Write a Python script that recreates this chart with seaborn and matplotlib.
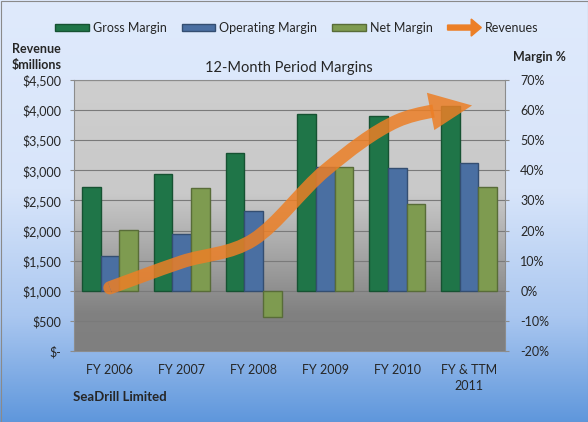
import numpy as np
import pandas as pd
import matplotlib
matplotlib.use("Agg")
import matplotlib.pyplot as plt
import matplotlib.patches as mpatches
from matplotlib.path import Path
from matplotlib.colors import LinearSegmentedColormap, to_rgb
from matplotlib.legend_handler import HandlerPatch
import seaborn as sns

# data
periods = ["FY 2006", "FY 2007", "FY 2008", "FY 2009", "FY 2010", "FY & TTM\n2011"]
gross_margin = [34.3, 38.9, 45.6, 58.7, 57.9, 61.2]
operating_margin = [11.7, 19.0, 26.6, 41.2, 40.9, 42.6]
net_margin = [20.1, 34.2, -8.8, 41.2, 28.9, 34.6]
revenues = [1050, 1480, 1850, 3000, 3820, 4070]

rev_ticks = [0, 500, 1000, 1500, 2000, 2500, 3000, 3500, 4000, 4500]
rev_labels = ["$-", "$500", "$1,000", "$1,500", "$2,000", "$2,500", "$3,000", "$3,500", "$4,000", "$4,500"]
margin_ticks = [-20, -10, 0, 10, 20, 30, 40, 50, 60, 70]
margin_labels = ["-20%", "-10%", "0%", "10%", "20%", "30%", "40%", "50%", "60%", "70%"]

metrics = ["Gross Margin", "Operating Margin", "Net Margin"]
colors = ["#1f7548", "#4a6fa2", "#7e9b50"]
orange = "#ec7f26"

df = pd.DataFrame({
    "Period": periods * 3,
    "Metric": [m for m in metrics for _ in periods],
    "Value": gross_margin + operating_margin + net_margin,
})

sns.set_style("white")
plt.rcParams["font.family"] = ["Lato", "DejaVu Sans"]

W, H = 588, 422
fig = plt.figure(figsize=(W / 100, H / 100), dpi=100)

# figure background gradient
bgax = fig.add_axes([0, 0, 1, 1], zorder=-10)
bg_cmap = LinearSegmentedColormap.from_list(
    "bg", [(0, "#dfeafc"), (0.45, "#d8e5fa"), (0.75, "#aac7f0"), (1, "#5f97dc")])
bgax.imshow(np.linspace(0, 1, 256).reshape(-1, 1), cmap=bg_cmap, aspect="auto",
            extent=[0, 1, 0, 1])
bgax.set_axis_off()
fig.add_artist(mpatches.Rectangle((0.5 / W, 0.5 / H), 1 - 1 / W, 1 - 1 / H,
                                  transform=fig.transFigure, fill=False,
                                  edgecolor="#8a8a8a", lw=0.8))

rect = [74 / W, 1 - 351 / H, (505 - 74) / W, (351 - 80) / H]

# plot area gradient
pax = fig.add_axes(rect, zorder=-5)
p_cmap = LinearSegmentedColormap.from_list(
    "pa", [(0, "#cecece"), (0.42, "#c9c9c9"), (0.62, "#a9a9a9"), (0.86, "#818181"), (1, "#7f7f7f")])
pax.imshow(np.linspace(0, 1, 256).reshape(-1, 1), cmap=p_cmap, aspect="auto",
           extent=[0, 1, 0, 1])
pax.set_axis_off()

ax = fig.add_axes(rect)
ax.set_facecolor("none")
sns.barplot(data=df, x="Period", y="Value", hue="Metric", palette=colors,
            saturation=1, width=0.78, ax=ax, legend=False)
for p in ax.patches:
    fc = np.array(to_rgb(p.get_facecolor()))
    p.set_edgecolor(fc * 0.7)
    p.set_linewidth(1.0)
    p.set_zorder(3)

ax.set_ylim(-20, 70)
ax.set_yticks(margin_ticks)
ax.set_yticklabels(margin_labels)
ax.set_xlim(-0.5, len(periods) - 0.5)
ax.set_xlabel("")
ax.set_ylabel("")
ax.yaxis.grid(True, color="#7a7a7a", lw=0.8)
ax.set_axisbelow(True)
for s in ax.spines.values():
    s.set_color("#8c8c8c")
    s.set_linewidth(0.8)

ax2 = ax.twinx()
ax.yaxis.tick_right()
ax2.yaxis.tick_left()
ax2.set_ylim(0, 4500)
ax2.set_yticks(rev_ticks)
ax2.set_yticklabels(rev_labels)
for s in ax2.spines.values():
    s.set_visible(False)

ax.tick_params(axis="y", length=3, color="#8c8c8c", labelsize=9, pad=8)
ax2.tick_params(axis="y", length=3, color="#8c8c8c", labelsize=9, pad=6)
ax.tick_params(axis="x", length=0, labelsize=9, pad=9)
for lbl in ax.get_xticklabels():
    lbl.set_linespacing(1.5)

# revenue curve (Catmull-Rom style smoothing, like Excel's smoothed line)
pts = np.column_stack([np.arange(len(revenues)), revenues]).astype(float)
n = len(pts)
verts = [pts[0]]
codes = [Path.MOVETO]
segs = []
for i in range(n - 1):
    pp = pts[i - 1] if i > 0 else pts[i]
    pn = pts[i + 2] if i + 2 < n else pts[i + 1]
    c1 = pts[i] + (pts[i + 1] - pp) / 6
    c2 = pts[i + 1] - (pn - pts[i]) / 6
    segs.append((pts[i], c1, c2, pts[i + 1]))

t = 0.45
for k, (a, b, c, d) in enumerate(segs):
    if k < len(segs) - 1:
        verts += [b, c, d]
        codes += [Path.CURVE4] * 3
    else:
        ab = a + (b - a) * t
        bc = b + (c - b) * t
        cd = c + (d - c) * t
        abc = ab + (bc - ab) * t
        bcd = bc + (cd - bc) * t
        m = abc + (bcd - abc) * t
        verts += [ab, abc, m]
        codes += [Path.CURVE4] * 3
        split = m

lw_pt = 9.5
alpha = 0.85
line = mpatches.PathPatch(Path(verts, codes), facecolor="none", edgecolor=orange,
                          lw=lw_pt, alpha=alpha, capstyle="butt", zorder=5)
ax2.add_patch(line)

tr = ax2.transData
inv = tr.inverted()
# arrow head
B = tr.transform(split)
T = tr.transform(pts[-1])
d = (T - B) / np.linalg.norm(T - B)
nrm = np.array([-d[1], d[0]])
hw = 19
head = [B + nrm * hw - d * 4, T + d * 3, B - nrm * hw - d * 2]
ax2.add_patch(mpatches.Polygon(inv.transform(head), closed=True, facecolor=orange,
                               edgecolor="none", alpha=alpha, zorder=5))
# round start cap
P0 = tr.transform(pts[0])
P1 = tr.transform(segs[0][1])
d0 = (P1 - P0) / np.linalg.norm(P1 - P0)
ang = np.degrees(np.arctan2(d0[1], d0[0]))
r = lw_pt * 100 / 72 / 2
th = np.radians(np.linspace(ang + 90, ang + 270, 30))
cap = P0 + r * np.column_stack([np.cos(th), np.sin(th)])
ax2.add_patch(mpatches.Polygon(inv.transform(cap), closed=True, facecolor=orange,
                               edgecolor="none", alpha=alpha, zorder=5))

# texts
fig.text(289 / W, 1 - 68 / H, "12-Month Period Margins", ha="center", va="center", fontsize=10.5)
fig.text(12 / W, 1 - 43 / H, "Revenue\n$millions", ha="left", va="top", fontsize=9,
         fontweight="bold", linespacing=1.45)
fig.text(513 / W, 1 - 57 / H, "Margin %", ha="left", va="center", fontsize=9, fontweight="bold")
fig.text(73 / W, 1 - 397 / H, "SeaDrill Limited", ha="left", va="center", fontsize=9.5,
         fontweight="bold")


# legend
def make_arrow(legend, orig_handle, xdescent, ydescent, width, height, fontsize):
    return mpatches.FancyArrow(-xdescent, height / 2 - ydescent, width, 0,
                               width=height * 0.7, head_width=height * 2.4,
                               head_length=width * 0.3, length_includes_head=True,
                               color=orange, lw=0)


handles = [mpatches.Patch(facecolor=c, edgecolor=np.array(to_rgb(c)) * 0.7) for c in colors]
arrow_handle = mpatches.FancyArrow(0, 0, 1, 0, color=orange)
handles.append(arrow_handle)
fig.legend(handles, metrics + ["Revenues"], loc="center", bbox_to_anchor=(0.505, 1 - 28 / H),
           ncol=4, frameon=False, fontsize=9, handlelength=2.7, handleheight=0.5,
           handletextpad=0.3, columnspacing=1.2,
           handler_map={arrow_handle: HandlerPatch(patch_func=make_arrow)})

fig.savefig("out.png", dpi=100)
